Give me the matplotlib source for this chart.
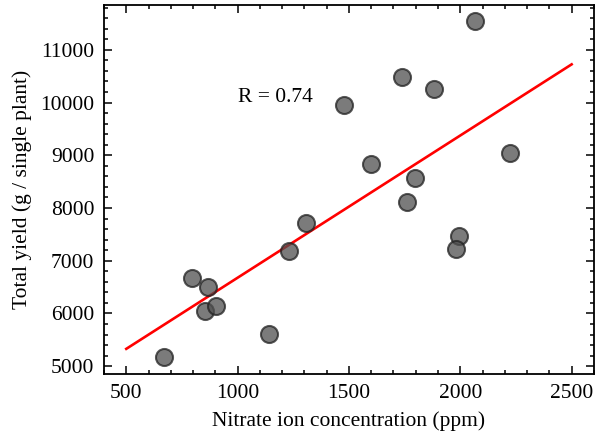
import numpy as np
import matplotlib.pyplot as plt

# Data
nitrate = [670, 795, 865, 855, 905, 1140, 1230, 1305, 1478, 1600,
           1738, 1884, 2064, 1796, 1760, 2222, 1995, 1980]
yield_total = [5170, 6680, 6500, 6050, 6150, 5610, 7180, 7710, 9960, 8830,
               10480, 10260, 11540, 8570, 8110, 9050, 7470, 7220]
r_text = "R = 0.74"

plt.rcParams['font.family'] = ['Liberation Serif', 'DejaVu Serif']
plt.rcParams['mathtext.fontset'] = 'stix'

x = np.array(nitrate)
y = np.array(yield_total)
slope, intercept = np.polyfit(x, y, 1)
x_fit = np.array([500, 2500])
y_fit = slope * x_fit + intercept

fig = plt.figure(figsize=(5.96, 4.38), dpi=100)
ax = fig.add_axes([0.1745, 0.146, 0.822, 0.8425])

ax.scatter(x, y, s=150, c='#4f4f4f', edgecolors='#222222', linewidths=1.5,
           alpha=0.75, zorder=3)
ax.plot(x_fit, y_fit, color='red', lw=1.9, zorder=2)
ax.text(1000, 10100, r_text, fontsize=15.5, va='center', ha='left')

ax.set_xlim(400, 2600)
ax.set_ylim(4850, 11850)
ax.set_xticks([500, 1000, 1500, 2000, 2500])
ax.set_yticks([5000, 6000, 7000, 8000, 9000, 10000, 11000])
ax.set_xticks(np.arange(400, 2601, 100), minor=True)
ax.set_yticks(np.arange(5000, 11801, 200), minor=True)
ax.tick_params(which='both', direction='in', top=True, right=True, width=1.1,
               labelsize=15.5, pad=7)
ax.tick_params(which='major', length=5.5)
ax.tick_params(which='minor', length=3)
for s in ax.spines.values():
    s.set_linewidth(1.3)

ax.set_xlabel("Nitrate ion concentration (ppm)", fontsize=15.5, labelpad=6)
ax.set_ylabel("Total yield (g / single plant)", fontsize=15.5, labelpad=6)

fig.savefig("out.png", dpi=100)
